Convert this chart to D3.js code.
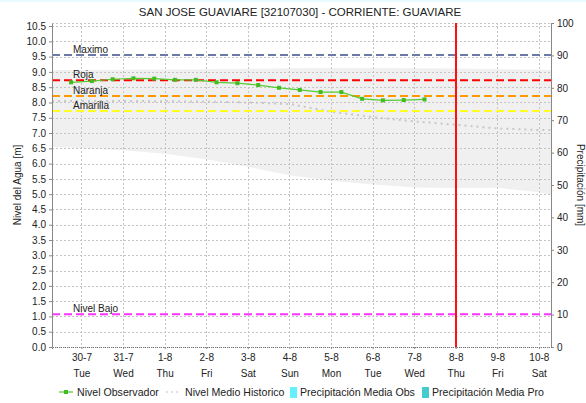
<!DOCTYPE html>
<html><head><meta charset="utf-8">
<script src="https://cdn.jsdelivr.net/npm/d3@7"></script>
<style>
html,body{margin:0;padding:0;background:#fff;}
svg{display:block;font-family:"Liberation Sans",Arial,sans-serif;}
</style></head>
<body>
<svg id="c" width="586" height="403"></svg>
<script>
// ---- data ----
const title = "SAN JOSE GUAVIARE [32107030] - CORRIENTE: GUAVIARE";
const domainStart = "2024-07-29 07:00";
const domainEnd = "2024-08-10 07:00";
const obsTimes = ["2024-07-29 18:00","2024-07-30 06:00","2024-07-30 18:00","2024-07-31 06:00","2024-07-31 18:00",
  "2024-08-01 06:00","2024-08-01 18:00","2024-08-02 06:00","2024-08-02 18:00","2024-08-03 06:00","2024-08-03 18:00",
  "2024-08-04 06:00","2024-08-04 18:00","2024-08-05 06:00","2024-08-05 18:00","2024-08-06 06:00","2024-08-06 18:00",
  "2024-08-07 06:00"];
const obsLevels = [8.66,8.70,8.76,8.79,8.78,8.74,8.74,8.66,8.63,8.57,8.48,8.41,8.34,8.34,8.12,8.07,8.08,8.10];
const histTimes = ["2024-07-29 07:00","2024-07-30 00:00","2024-07-31 00:00","2024-08-01 00:00","2024-08-02 00:00",
  "2024-08-03 00:00","2024-08-04 00:00","2024-08-05 00:00","2024-08-06 00:00","2024-08-07 00:00","2024-08-08 00:00",
  "2024-08-09 00:00","2024-08-10 00:00","2024-08-10 07:00"];
const histMax = [9.06,9.06,9.07,9.08,9.09,9.10,9.12,9.13,9.13,9.12,9.11,9.09,9.07,9.06];
const histMin = [6.55,6.50,6.44,6.32,6.14,5.90,5.62,5.44,5.32,5.22,5.20,5.21,5.06,4.98];
const histMedian = [8.05,8.05,8.05,8.04,8.03,8.00,7.95,7.70,7.52,7.38,7.27,7.15,7.10,7.10];
const thresholdNames = ["Maximo","Roja","Naranja","Amarilla","Nivel Bajo"];
const thresholdValues = [9.55,8.73,8.21,7.72,1.07];
const thresholdColors = ["#6b7ba6","#ff0000","#ff9900","#ffff22","#ff33ff"];
const nowTime = "2024-08-08 00:00";
const levelTicks = [0,0.5,1,1.5,2,2.5,3,3.5,4,4.5,5,5.5,6,6.5,7,7.5,8,8.5,9,9.5,10,10.5];
const precipTicks = [0,10,20,30,40,50,60,70,80,90,100];
const legendNames = ["Nivel Observador","Nivel Medio Historico","Precipitación Media Obs","Precipitación Media Pro"];

// ---- chart ----
const parse = d3.timeParse("%Y-%m-%d %H:%M");
const svg = d3.select("#c");
const L = 52, R = 551, T = 23, B = 347;
const x = d3.scaleTime().domain([parse(domainStart), parse(domainEnd)]).range([L, R]);
const y = d3.scaleLinear().domain([0, 10.6]).range([B, T]);
const y2 = d3.scaleLinear().domain([0, 100]).range([B, T]);

svg.append("rect").attr("x",0).attr("y",0).attr("width",586).attr("height",2).attr("fill","#eafbff");

// band
const hist = histTimes.map((t,i)=>({t:parse(t),hi:histMax[i],lo:histMin[i],md:histMedian[i]}));
svg.append("path").datum(hist)
  .attr("d", d3.area().x(d=>x(d.t)).y0(d=>y(d.lo)).y1(d=>y(d.hi)))
  .attr("fill","#f0f0f0");

// grid
const days = x.ticks(d3.timeDay.every(1));
const grid = svg.append("g").attr("stroke","#c4c4c4").attr("stroke-dasharray","2,2").attr("stroke-width",1);
levelTicks.forEach(v=>grid.append("line").attr("x1",L).attr("x2",R).attr("y1",Math.round(y(v))+0.5).attr("y2",Math.round(y(v))+0.5));
grid.append("line").attr("x1",L).attr("x2",R).attr("y1",T+0.5).attr("y2",T+0.5);
days.forEach(d=>grid.append("line").attr("y1",T).attr("y2",B).attr("x1",Math.round(x(d))+0.5).attr("x2",Math.round(x(d))+0.5));

// median historic dotted
svg.append("path").datum(hist)
  .attr("d", d3.line().x(d=>x(d.t)).y(d=>y(d.md)))
  .attr("fill","none").attr("stroke","#c8c8c8").attr("stroke-width",2).attr("stroke-dasharray","2,4");

// thresholds
thresholdValues.forEach((v,i)=>{
  svg.append("line").attr("x1",L).attr("x2",R).attr("y1",y(v)).attr("y2",y(v))
    .attr("stroke",thresholdColors[i]).attr("stroke-width",2).attr("stroke-dasharray","8,4");
  svg.append("text").attr("x",73).attr("y",y(v)-2).attr("font-size",10).attr("fill","#222").text(thresholdNames[i]);
});

// observed
const obs = obsTimes.map((t,i)=>({t:parse(t),v:obsLevels[i]}));
svg.append("path").datum(obs).attr("d", d3.line().x(d=>x(d.t)).y(d=>y(d.v)))
  .attr("fill","none").attr("stroke","#55cc33").attr("stroke-width",1.2);
svg.selectAll(".pt").data(obs).enter().append("rect")
  .attr("x",d=>x(d.t)-2).attr("y",d=>y(d.v)-2).attr("width",4).attr("height",4).attr("fill","#44bb22");

// now line
const nx = Math.round(x(parse(nowTime)));
svg.append("line").attr("x1",nx).attr("x2",nx).attr("y1",T).attr("y2",B)
  .attr("stroke","#ff1010").attr("stroke-width",2);

// axes
const ax = svg.append("g").attr("transform",`translate(${L},0)`)
  .call(d3.axisLeft(y).tickValues(levelTicks).tickFormat(d3.format(".1f")).tickSize(3).tickSizeOuter(0));
ax.select(".domain").attr("stroke","#888");
ax.selectAll(".tick line").attr("stroke","#888");
ax.selectAll("text").attr("font-size",10).attr("fill","#222").attr("font-family","Liberation Sans, Arial");

const ax2 = svg.append("g").attr("transform",`translate(${R},0)`)
  .call(d3.axisRight(y2).tickValues(precipTicks).tickSize(3).tickSizeOuter(0));
ax2.select(".domain").attr("stroke","#888");
ax2.selectAll(".tick line").attr("stroke","#888");
ax2.selectAll("text").attr("font-size",10).attr("fill","#222").attr("font-family","Liberation Sans, Arial");

const axb = svg.append("g").attr("transform",`translate(0,${B})`)
  .call(d3.axisBottom(x).tickValues(days).tickSize(2).tickFormat(d3.timeFormat("%-d-%-m")));
axb.select(".domain").attr("stroke","#777").attr("stroke-dasharray","1,1");
axb.selectAll(".tick line").attr("stroke","#888");
axb.selectAll("text").attr("font-size",10).attr("fill","#222").attr("font-family","Liberation Sans, Arial").attr("dy","0.9em");
axb.selectAll(".tick").append("text").attr("y",21).attr("dy","0.9em").attr("text-anchor","middle")
  .attr("font-size",10).attr("fill","#222").text(d=>d3.timeFormat("%a")(d));

// titles
svg.append("text").attr("x",300).attr("y",16).attr("text-anchor","middle").attr("font-size",11.5).attr("fill","#222").text(title);
svg.append("text").attr("transform",`translate(21,${(T+B)/2}) rotate(-90)`).attr("text-anchor","middle")
  .attr("font-size",10).attr("fill","#222").text("Nivel del Agua [m]");
svg.append("text").attr("transform",`translate(577,${(T+B)/2}) rotate(90)`).attr("text-anchor","middle")
  .attr("font-size",10).attr("fill","#222").text("Precipitación [mm]");

// legend
const lg = svg.append("g").attr("font-size",10.6).attr("fill","#222");
const ly = 392;
lg.append("line").attr("x1",59).attr("x2",73).attr("y1",ly).attr("y2",ly).attr("stroke","#55cc33").attr("stroke-width",1.2);
lg.append("rect").attr("x",64).attr("y",ly-2).attr("width",4).attr("height",4).attr("fill","#44bb22");
lg.append("text").attr("x",77).attr("y",ly+4).text(legendNames[0]);
lg.append("line").attr("x1",166).attr("x2",181).attr("y1",ly).attr("y2",ly).attr("stroke","#c8c8c8").attr("stroke-width",1.2).attr("stroke-dasharray","2,3");
lg.append("text").attr("x",185).attr("y",ly+4).text(legendNames[1]);
lg.append("rect").attr("x",290).attr("y",ly-5).attr("width",7).attr("height",11).attr("fill","#66f0ff");
lg.append("text").attr("x",300).attr("y",ly+4).text(legendNames[2]);
lg.append("rect").attr("x",422).attr("y",ly-5).attr("width",7).attr("height",11).attr("fill","#44cccc");
lg.append("text").attr("x",432).attr("y",ly+4).text(legendNames[3]);
</script>
</body></html>
